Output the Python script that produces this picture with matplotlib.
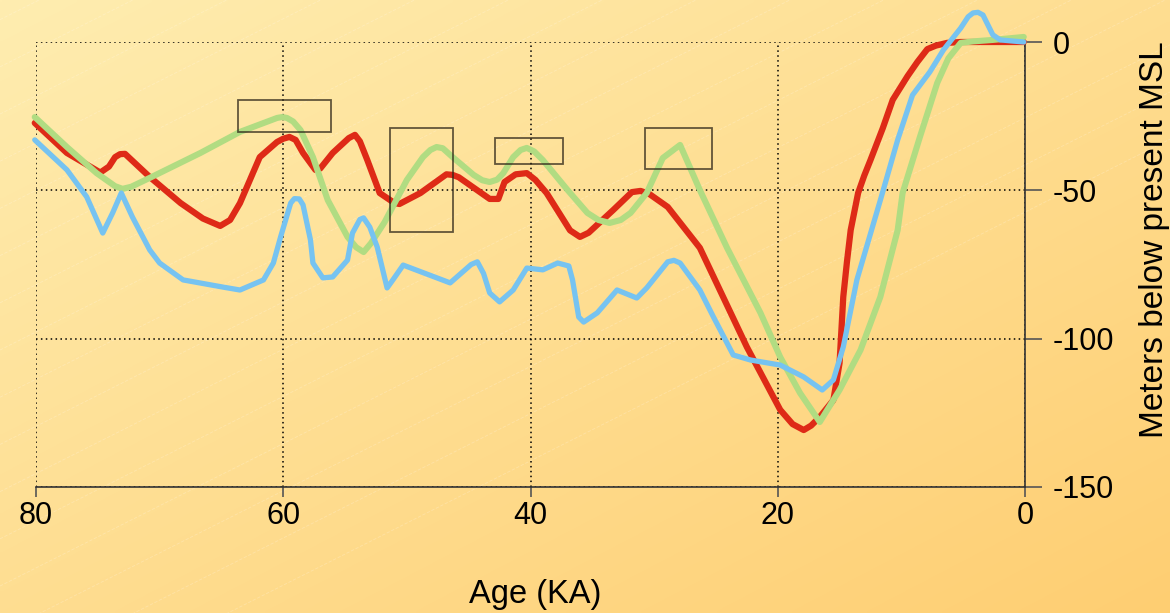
import numpy as np
import matplotlib
matplotlib.use("Agg")
import matplotlib.pyplot as plt
from matplotlib.patches import Rectangle

plt.rcParams['font.family'] = ['Liberation Sans', 'DejaVu Sans']
plt.rcParams['axes.unicode_minus'] = False

# ---- data (age in ka, sea level in m relative to present) ----
red_age = [80.1, 77.5, 74.8, 74.1, 73.6, 73.2, 72.8, 70.8, 68.3, 66.5, 65.1, 64.3, 63.5, 61.9,
           60.5, 60.0, 59.5, 59.0, 58.4, 57.4, 57.0, 56.0, 54.7, 54.2, 53.8, 53.2, 52.2, 51.0,
           50.6, 48.9, 46.8, 46.3, 45.8, 43.3, 42.6, 42.1, 41.2, 40.3, 39.6, 38.7, 36.8, 36.0,
           35.3, 33.3, 31.8, 31.1, 30.4, 28.9, 26.3, 22.5, 19.8, 18.8, 17.9, 17.3, 16.6, 15.5,
           15.0, 14.7, 14.4, 14.1, 13.5, 13.0, 12.5, 11.5, 10.7, 9.5, 8.7, 7.9, 7.2, 6.3, 5.2, 0.1]
red_val = [-27.3, -37.4, -44.0, -42.0, -38.8, -37.8, -37.7, -45.5, -54.3, -59.5, -62.0, -60.0,
           -54.3, -38.8, -33.7, -32.6, -32.0, -33.0, -37.4, -43.1, -42.6, -37.4, -32.4, -31.3,
           -33.5, -39.8, -50.9, -54.3, -54.6, -50.9, -44.6, -44.8, -45.6, -52.9, -52.9, -47.2,
           -44.6, -44.2, -46.5, -50.9, -63.5, -65.7, -64.3, -56.6, -50.6, -50.2, -51.2, -55.6,
           -69.4, -102.8, -124.0, -128.8, -130.8, -129.3, -126.4, -120.7, -108.2, -85.9, -74.0,
           -63.4, -50.9, -45.0, -39.8, -29.0, -19.5, -11.5, -6.7, -2.4, -1.2, -0.3, 0.0, 0.0]

green_age = [80.1, 77.5, 75.1, 73.6, 73.0, 72.3, 70.8, 66.7, 63.5, 60.5, 60.1, 59.7, 59.2, 58.6,
             57.6, 56.4, 54.8, 54.1, 53.5, 52.9, 51.8, 50.0, 48.7, 48.1, 47.6, 47.1, 46.3, 44.6,
             43.9, 43.3, 42.7, 42.2, 41.4, 40.8, 40.3, 39.7, 39.0, 37.0, 35.4, 34.5, 33.6, 32.7,
             31.9, 30.6, 29.3, 27.9, 26.3, 24.1, 21.4, 19.8, 18.2, 16.6, 15.0, 13.3, 11.7, 10.3,
             9.9, 8.5, 7.1, 6.2, 5.2, 4.2, 2.6, 0.1]
green_val = [-25.3, -35.4, -44.2, -48.6, -49.5, -48.8, -45.8, -37.4, -30.3, -25.6, -25.3, -25.6,
             -26.8, -29.7, -38.8, -53.3, -65.7, -69.2, -70.8, -67.8, -60.7, -46.5, -38.8, -36.4,
             -35.4, -35.8, -38.8, -44.8, -46.6, -47.2, -46.4, -44.2, -38.8, -36.4, -35.7, -36.9,
             -39.8, -49.9, -57.6, -60.0, -61.0, -60.0, -57.6, -50.9, -39.1, -34.7, -49.9, -69.4,
             -91.3, -106.2, -118.3, -128.1, -117.3, -103.8, -85.9, -63.4, -50.9, -32.0, -13.8,
             -5.5, -0.3, 0.2, 0.7, 1.7]

blue_age = [80.1, 77.5, 75.9, 74.6, 73.8, 73.1, 72.2, 70.8, 70.0, 68.1, 64.9, 63.5, 61.6, 60.8,
            60.2, 59.4, 59.1, 58.7, 58.4, 57.8, 57.6, 56.8, 56.0, 54.8, 54.4, 53.8, 53.5, 53.0,
            52.4, 51.6, 51.1, 50.3, 46.5, 44.8, 44.3, 43.8, 43.3, 42.5, 41.4, 40.3, 39.0, 37.8,
            36.9, 36.6, 36.1, 35.7, 34.6, 33.0, 31.4, 30.6, 28.9, 28.4, 27.9, 26.3, 25.2, 23.6,
            22.2, 19.8, 17.9, 16.4, 15.5, 14.7, 13.6, 11.7, 10.3, 9.1, 7.7, 6.6, 5.2, 4.6, 4.2,
            3.8, 3.4, 2.6, 2.0, 0.1]
blue_val = [-33.0, -43.1, -52.2, -64.4, -57.6, -50.9, -59.0, -70.1, -74.5, -80.2, -82.6, -83.6,
            -80.2, -74.5, -65.5, -54.3, -52.8, -52.9, -54.9, -66.7, -74.5, -79.5, -79.2, -73.5,
            -64.4, -59.8, -59.3, -62.4, -69.1, -82.9, -80.0, -75.2, -81.2, -75.0, -74.1, -78.0,
            -84.6, -87.6, -83.6, -76.2, -76.8, -74.5, -75.5, -80.2, -92.7, -94.4, -91.3, -83.6,
            -86.3, -82.9, -74.1, -73.6, -74.5, -83.6, -92.7, -105.5, -107.2, -108.9, -112.9,
            -117.3, -113.9, -102.8, -80.2, -53.3, -33.0, -17.9, -10.1, -2.7, 4.7, 8.5, 9.8, 10.0,
            9.1, 2.4, 0.7, 0.0]

# highlight boxes: (age_left, age_right, top, bottom)
box_age_left = [63.7, 51.4, 42.9, 30.7]
box_age_right = [56.1, 46.3, 37.4, 25.3]
box_top = [-19.5, -29.0, -32.4, -29.0]
box_bottom = [-30.3, -64.0, -41.1, -42.8]

xticks = [80, 60, 40, 20, 0]
yticks = [0, -50, -100, -150]

# ---- figure ----
W, H = 1170, 613
fig = plt.figure(figsize=(W / 100, H / 100), dpi=100)

# background gradient
bg = fig.add_axes([0, 0, 1, 1], zorder=-10)
nx, ny = 300, 160
xx, yy = np.meshgrid(np.linspace(0, 1, nx), np.linspace(0, 1, ny))
t = (xx + yy) / 2.0
c0 = np.array([255, 237, 176]) / 255.0
c1 = np.array([254, 206, 114]) / 255.0
img = c0[None, None, :] * (1 - t[..., None]) + c1[None, None, :] * t[..., None]
bg.imshow(img, extent=[0, 1, 1, 0], aspect='auto', interpolation='bilinear')
# faint diagonal lines
for off in np.arange(-1.2, 1.2, 0.077):
    bg.plot([0, 1], [off, off - 0.96], color='white', lw=0.6, alpha=0.22, ls=(0, (4, 2)))
bg.set_xlim(0, 1)
bg.set_ylim(1, 0)
bg.axis('off')

ax = fig.add_axes([36 / W, 1 - 487 / H, (1025 - 36) / W, (487 - 42) / H])
ax.patch.set_alpha(0)
ax.set_xlim(80, 0)
ax.set_ylim(-150, 0)

ax.plot(red_age, red_val, color='#DE2A17', lw=4.5, solid_joinstyle='round',
        solid_capstyle='round', zorder=3, clip_on=False)
ax.plot(green_age, green_val, color='#B1DC82', lw=4.4, solid_joinstyle='round',
        solid_capstyle='round', zorder=4, clip_on=False)
ax.plot(blue_age, blue_val, color='#76C3F1', lw=3.8, solid_joinstyle='round',
        solid_capstyle='round', zorder=5, clip_on=False)

for l, r, tp, bt in zip(box_age_left, box_age_right, box_top, box_bottom):
    ax.add_patch(Rectangle((r, bt), l - r, tp - bt, fill=False, edgecolor='#2e2618',
                           lw=1.3, alpha=0.75, zorder=6))

ax.set_xticks(xticks)
ax.set_yticks(yticks)
ax.set_xticklabels([str(v) for v in xticks])
ax.set_yticklabels([str(v) for v in yticks])
ax.grid(True, linestyle=(0, (1, 2.2)), color='black', lw=1.1)
ax.set_axisbelow(True)

ax.yaxis.tick_right()
for s in ['left', 'top']:
    ax.spines[s].set_visible(False)
for s in ['bottom', 'right']:
    ax.spines[s].set_color('#333333')
    ax.spines[s].set_linewidth(1.2)
ax.tick_params(axis='x', direction='out', length=7, width=1.2, color='#555555',
               labelsize=22, pad=3, labelcolor='black')
ax.tick_params(axis='y', direction='out', length=12, width=1.2, color='#555555',
               labelsize=22, pad=8, labelcolor='black')

fig.text(535 / W, 1 - 594 / H, 'Age (KA)', fontsize=23.5, ha='center', va='center')
fig.text(1155 / W, 1 - 240 / H, 'Meters below present MSL', fontsize=24, rotation=90,
         ha='center', va='center')

fig.savefig('out.png', dpi=100)
